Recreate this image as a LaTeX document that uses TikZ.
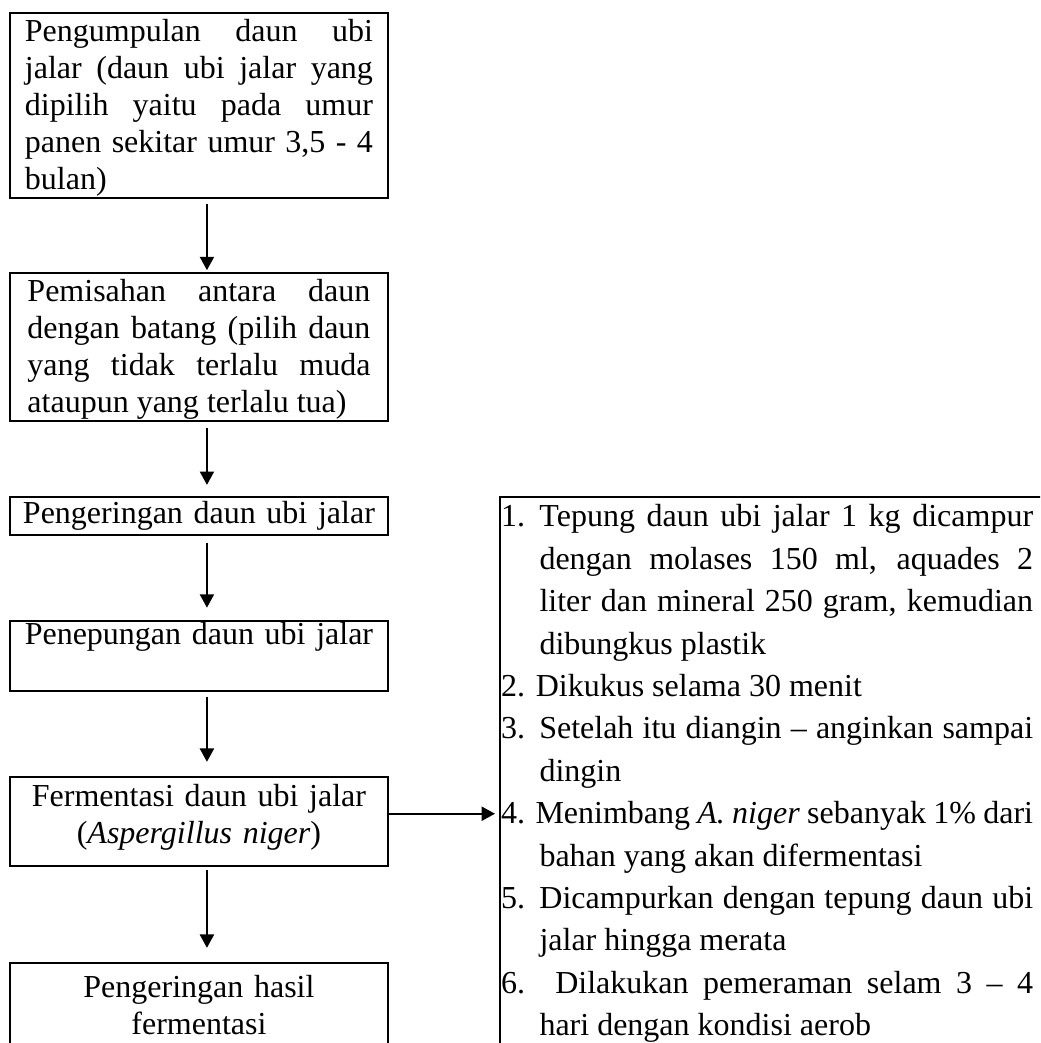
\documentclass[tikz,border=0pt]{standalone}
\usepackage{fontspec}
\setmainfont{Liberation Serif}
\usetikzlibrary{arrows.meta,positioning}
\tolerance=10000
\hbadness=10000
\newcommand{\prosesitem}[1]{\hangindent=14.4pt\hangafter=1 #1\par}

\begin{document}
\begin{tikzpicture}[font=\fontsize{12}{13.8}\selectfont,
      k/.style={draw,line width=.65pt,outer sep=0pt,inner xsep=5.6pt,inner ysep=0pt,text width=130.5pt,text height=10.8pt},
      c/.style={k,align=center,text width=139pt,inner xsep=1.4pt},
      a/.style={-{Triangle[length=5pt,width=5.3pt]},line width=.65pt}]
  \useasboundingbox (0,0) rectangle (390pt,-391.1pt);
  \clip (0,0) rectangle (390pt,-391.1pt);
  \node[k,align=justify,text depth=58.6pt,anchor=north west] (kumpul) at (3.75pt,-4.9pt) {Pengumpulan daun ubi\linebreak jalar (daun ubi jalar yang\linebreak dipilih yaitu pada umur\linebreak panen sekitar umur 3,5 - 4\linebreak bulan)};
  \node[k,align=justify,text width=128.6pt,inner xsep=6.6pt,text depth=44.6pt,below=28.1pt of kumpul] (pisah) {Pemisahan antara daun\linebreak dengan batang (pilih daun\linebreak yang tidak terlalu muda\linebreak ataupun yang terlalu tua)};
  \node[c,text height=10.1pt,text depth=4.1pt,below=28.5pt of pisah] (kering) {Pengeringan daun ubi jalar};
  \node[c,text height=9pt,text depth=17.25pt,below=32.25pt of kering] (tepung) {Penepungan daun ubi jalar};
  \node[c,text height=11.25pt,text depth=22.1pt,below=32.25pt of tepung] (fermen) {Fermentasi daun ubi jalar\\(\textit{Aspergillus niger})};
  \node[c,text height=13.1pt,text depth=30pt,below=36.4pt of fermen] (hasil) {Pengeringan hasil\\fermentasi};
  % daftar langkah fermentasi
  \node[draw,line width=.65pt,outer sep=0pt,inner xsep=.4pt,inner ysep=0pt,text height=11.25pt,text depth=200pt,anchor=north west] (langkah) at ([xshift=42pt]kering.north east) {\begin{minipage}[t]{199.5pt}\fontsize{12}{15.9}\selectfont
    \prosesitem{\makebox[14.4pt][l]{1.}Tepung daun ubi jalar 1 kg dicampur\linebreak dengan molases 150 ml, aquades 2\linebreak liter dan mineral 250 gram, kemudian\linebreak dibungkus plastik}
    \prosesitem{2. Dikukus selama 30 menit}
    \prosesitem{3. Setelah itu diangin – anginkan sampai\linebreak dingin}
    \prosesitem{4. Menimbang \textit{A. niger} sebanyak 1\% dari\linebreak bahan yang akan difermentasi}
    \prosesitem{5. Dicampurkan dengan tepung daun ubi\linebreak jalar hingga merata}
    \prosesitem{6. Dilakukan pemeraman selam 3 – 4\linebreak hari dengan kondisi aerob}
  \end{minipage}\hspace*{8pt}};
  \draw[a,shorten <=2.2pt,shorten >=1.1pt] ([xshift=3pt]kumpul.south) -- ([xshift=3pt]pisah.north);
  \draw[a,shorten <=2.6pt,shorten >=4.5pt] ([xshift=3pt]pisah.south) -- ([xshift=3pt]kering.north);
  \draw[a,shorten <=3pt,shorten >=4.9pt] ([xshift=3pt]kering.south) -- ([xshift=3pt]tepung.north);
  \draw[a,shorten <=2.2pt,shorten >=5.6pt] ([xshift=3pt]tepung.south) -- ([xshift=3pt]fermen.north);
  \draw[a,shorten <=1.5pt,shorten >=5.6pt] ([xshift=3pt]fermen.south) -- ([xshift=3pt]hasil.north);
  \draw[a,shorten >=1.9pt] ([yshift=2.8pt]fermen.east) -- ([yshift=2.8pt]fermen.east -| langkah.west);
\end{tikzpicture}
\end{document}
